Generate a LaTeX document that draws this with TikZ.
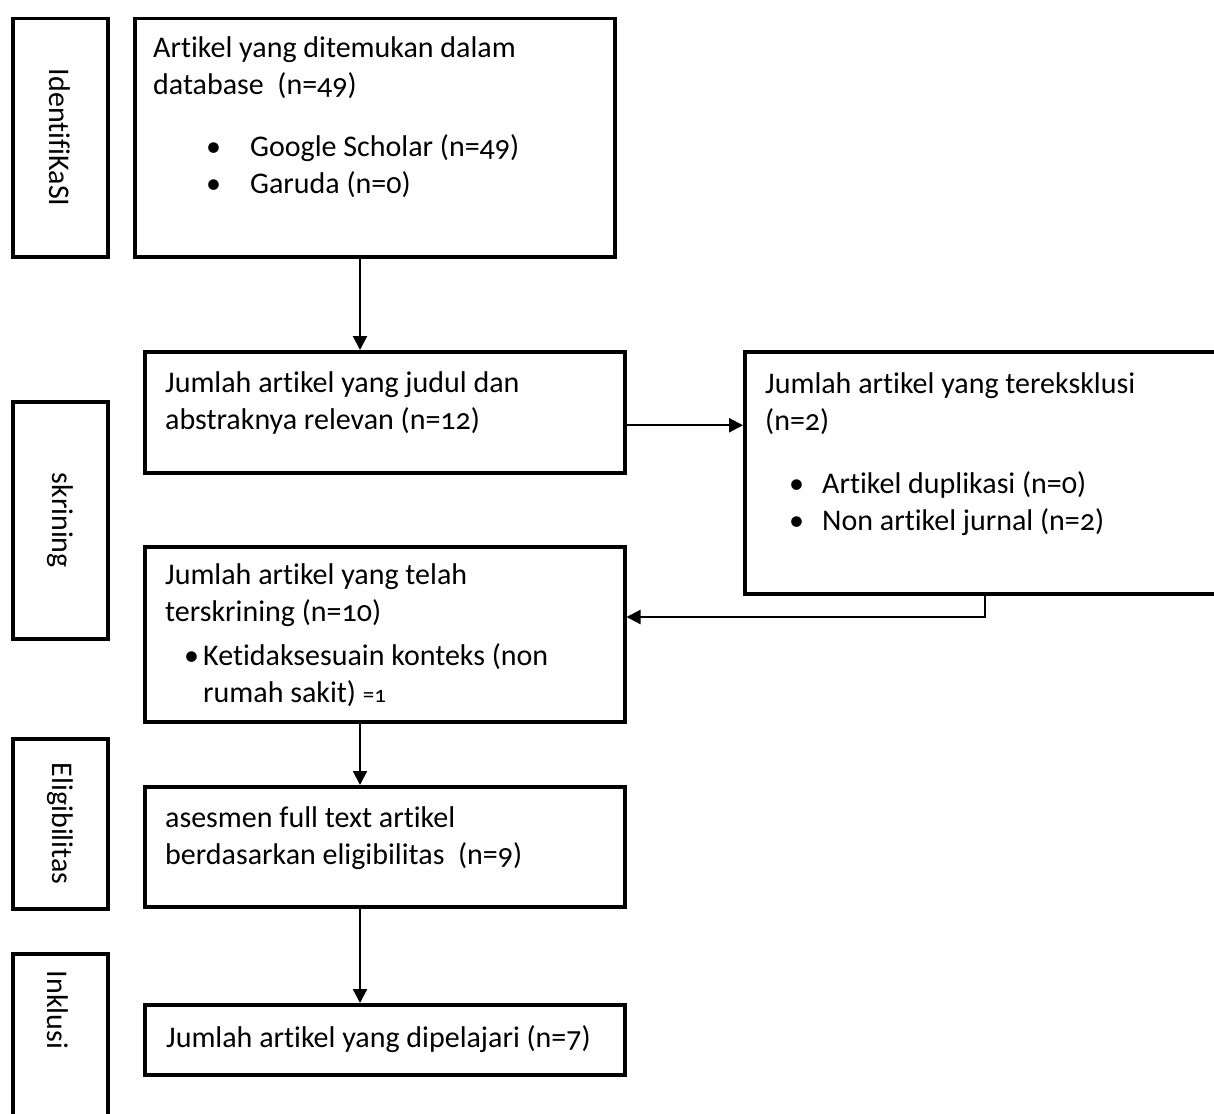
\documentclass[tikz,border=0pt]{standalone}
\usepackage{fontspec}
\setmainfont{Carlito}[Numbers=OldStyle, Ligatures=NoCommon]
\usetikzlibrary{arrows.meta,positioning}

\tikzset{
  box/.style={draw, line width=3.5pt, inner sep=0pt, anchor=north west},
  side/.style={draw, line width=3.5pt, inner sep=0pt, minimum width=95, anchor=north west},
  txt/.style={align=left, inner sep=0pt, font=\fontsize{30}{37}\selectfont},
  flow/.style={line width=2.2pt, -{Triangle[length=14pt,width=14pt]}},
}

\begin{document}
\begin{tikzpicture}[x=1pt,y=-1pt]
  \useasboundingbox (0,0) rectangle (1214,1113);
  \clip (0,0) rectangle (1214,1113);

  % stage labels on the left
  \node[side, minimum height=238] (idlab) at (11,17) {};
  \node[side, minimum height=237] (sklab) at (11,400) {};
  \node[side, minimum height=170] (ellab) at (11,737) {};
  \node[side, minimum height=180] (inlab) at (11,952) {};
  \node[txt, rotate=-90] at (idlab.center) {IdentifiKaSI};
  \node[txt, rotate=-90] at (sklab.center) {skrining};
  \node[txt, rotate=-90] at (ellab.center) {Eligibilitas};
  \node[txt, rotate=-90] at (58,1010) {Inklusi};

  % flow boxes
  \node[box, minimum width=480, minimum height=238] (found) at (133,17) {};
  \node[box, minimum width=480, minimum height=121] (relevant) at (143,350) {};
  \node[box, minimum width=500, minimum height=242] (excluded) at (743,350) {};
  \node[box, minimum width=480, minimum height=175] (screened) at (143,545) {};
  \node[box, minimum width=480, minimum height=120] (fulltext) at (143,785) {};
  \node[box, minimum width=480, minimum height=70] (included) at (143,1003) {};

  \node[txt, below right=176pt and 20pt of found.north west, anchor=base west] (foundtxt)
    {Artikel yang ditemukan dalam\\database~ (n=49)\\[25pt]
     \hspace*{53pt}\makebox[44pt][l]{\textbullet}Google Scholar (n=49)\\
     \hspace*{53pt}\makebox[44pt][l]{\textbullet}Garuda (n=0)};
  \node[txt, below right=79pt and 22pt of relevant.north west, anchor=base west] (relevanttxt)
    {Jumlah artikel yang judul dan\\abstraknya relevan (n=12)};
  \node[txt, below right=180pt and 22pt of excluded.north west, anchor=base west] (excludedtxt)
    {Jumlah artikel yang tereksklusi\\(n=2)\\[26pt]
     \hspace*{24pt}\makebox[33pt][l]{\textbullet}Artikel duplikasi (n=0)\\
     \hspace*{24pt}\makebox[33pt][l]{\textbullet}Non artikel jurnal (n=2)};
  \node[txt, below right=157pt and 22pt of screened.north west, anchor=base west] (screenedtxt)
    {Jumlah artikel yang telah\\terskrining (n=10)\\[7pt]
     \hspace*{19pt}\makebox[19pt][l]{\textbullet}Ketidaksesuain konteks (non\\
     \hspace*{38pt}rumah sakit) {\fontsize{23}{37}\selectfont =1}};
  \node[txt, below right=79pt and 22pt of fulltext.north west, anchor=base west] (fulltexttxt)
    {asesmen full text artikel\\berdasarkan eligibilitas~ (n=9)};
  \node[txt, below right=44pt and 23pt of included.north west, anchor=base west] (includedtxt)
    {Jumlah artikel yang dipelajari (n=7)};

  % connectors
  \coordinate (spine) at (360,0);
  \coordinate (back) at (985,617);
  \draw[flow] (spine |- found.south) -- (spine |- relevant.north);
  \draw[flow] ([yshift=-13pt]relevant.east) -- ([yshift=-13pt]relevant.east -| excluded.west);
  \draw[flow] (back |- excluded.south) -- (back) -- (back -| screened.east);
  \draw[flow] (spine |- screened.south) -- (spine |- fulltext.north);
  \draw[flow] (spine |- fulltext.south) -- (spine |- included.north);
\end{tikzpicture}
\end{document}
